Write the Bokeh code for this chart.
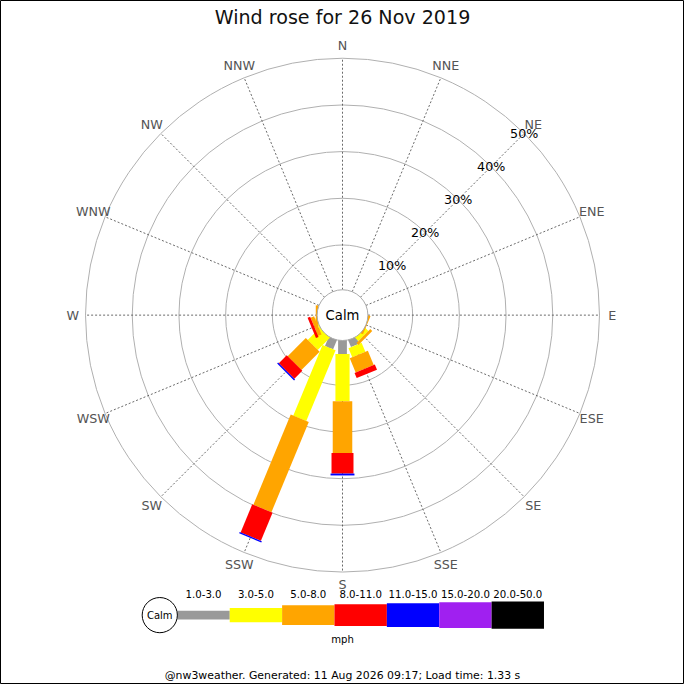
import numpy as np
from bokeh.plotting import figure
from bokeh.models import Range1d
from bokeh.core.properties import value
from bokeh.embed import file_html
from bokeh.resources import INLINE

# wind directions (clockwise from north)
directions = ["N", "NNE", "NE", "ENE", "E", "ESE", "SE", "SSE",
              "S", "SSW", "SW", "WSW", "W", "WNW", "NW", "NNW"]

# frequency (%) per direction and speed band
speed_bands = ["1.0-3.0", "3.0-5.0", "5.0-8.0", "8.0-11.0", "11.0-15.0", "15.0-20.0", "20.0-50.0"]
band_colors = ["#999999", "#ffff00", "#ffa500", "#ff0000", "#0000ff", "#a020f0", "#000000"]
pct_1_3   = [0, 0, 0, 0, 0, 0,   0,   2.0, 3.3,  2.5,  0,   0,   0,   0, 0, 0]
pct_3_5   = [0, 0, 0, 0, 0, 0,   1.3, 2.1, 10.1, 16.4, 4.0, 0.7, 0.2, 0, 0, 0]
pct_5_8   = [0, 0, 0, 0, 0, 0.6, 0.6, 3.3, 11.1, 20.9, 5.5, 0.8, 0.5, 0, 0, 0]
pct_8_11  = [0, 0, 0, 0, 0, 0,   0,   1.2, 4.4,  6.5,  2.4, 0.6, 0,   0, 0, 0]
pct_11_15 = [0, 0, 0, 0, 0, 0,   0,   0,   0.4,  0.3,  0.3, 0,   0,   0, 0, 0]
pct_15_20 = [0] * 16
pct_20_50 = [0] * 16
bands = [pct_1_3, pct_3_5, pct_5_8, pct_8_11, pct_11_15, pct_15_20, pct_20_50]

ring_pcts = [10, 20, 30, 40, 50]
title = "Wind rose for 26 Nov 2019"
footer = "@nw3weather. Generated: 11 Aug 2026 09:17; Load time: 1.33 s"

# layout (reference pixel units, centre of rose at origin)
S = 684 / 700.0
R0, K = 24.0, 4.78          # radius of 0% and px per percent
CALM_R = 26.0
widths = [9, 14.5, 20, 22.5, 24.5, 26.5, 28]
FONT = value("DejaVu Sans")


def rad(pct):
    return R0 + K * np.asarray(pct, dtype=float)


def fs(px):
    return "%.1fpx" % (px * S)


p = figure(width=684, height=684, x_range=Range1d(-350, 350), y_range=Range1d(-378, 322),
           output_backend="svg", toolbar_location=None, min_border=0)
p.axis.visible = False
p.grid.visible = False
p.outline_line_color = "black"
p.outline_line_width = 1

theta = np.deg2rad(22.5 * np.arange(16))
sx, sy = np.sin(theta), np.cos(theta)

# rings and spokes
p.circle(x=[0] * len(ring_pcts), y=[0] * len(ring_pcts), radius=rad(ring_pcts),
         fill_color=None, line_color="#b0b0b0", line_width=1)
p.segment(x0=CALM_R * sx, y0=CALM_R * sy, x1=rad(50) * sx, y1=rad(50) * sy,
          line_color="#444444", line_width=0.8, line_dash="2 2")

# stacked bars
cum = np.zeros(16)
for vals, col, w in zip(bands, band_colors, widths):
    vals = np.asarray(vals, dtype=float)
    end = cum + vals
    m = vals > 0
    if m.any():
        p.segment(x0=rad(cum[m]) * sx[m], y0=rad(cum[m]) * sy[m],
                  x1=rad(end[m]) * sx[m], y1=rad(end[m]) * sy[m],
                  line_color=col, line_width=w * S, line_cap="butt")
    cum = end

# calm circle
p.circle(x=[0], y=[0], radius=CALM_R, fill_color="white", line_color="#aaaaaa", line_width=1)
p.text(x=[0], y=[0], text=["Calm"], text_align="center", text_baseline="middle",
       text_font=FONT, text_font_size=fs(13.5), text_color="black")

# percentage labels along NE
d45 = np.sin(np.deg2rad(45))
p.text(x=rad(ring_pcts) * d45, y=rad(ring_pcts) * d45, text=["%d%%" % v for v in ring_pcts],
       text_align="center", text_baseline="middle", text_font=FONT,
       text_font_size=fs(13), text_color="black")

# direction labels
lab_r = 276
p.text(x=lab_r * sx, y=lab_r * sy, text=directions, text_align="center", text_baseline="middle",
       text_font=FONT, text_font_size=fs(13), text_color="#555555")

# title and footer
p.text(x=[0], y=[322 - 17], text=[title], text_align="center", text_baseline="middle",
       text_font=FONT, text_font_size=fs(19.5), text_color="#111111")
p.text(x=[0], y=[322 - 691], text=[footer], text_align="center", text_baseline="middle",
       text_font=FONT, text_font_size=fs(11.2), text_color="black")

# speed legend
ly = 322 - 629
lx0, step = 181 - 350, 53.6
lx = lx0 + step * np.arange(len(speed_bands))
for i, (col, w) in enumerate(zip(band_colors, widths)):
    p.segment(x0=[lx[i]], y0=[ly], x1=[lx[i] + step], y1=[ly],
              line_color=col, line_width=w * S, line_cap="butt")
p.text(x=lx + step / 2, y=[322 - 607] * len(speed_bands), text=speed_bands,
       text_align="center", text_baseline="middle", text_font=FONT,
       text_font_size=fs(10.4), text_color="black")
p.circle(x=[163 - 350], y=[ly], radius=18, fill_color="white", line_color="black", line_width=1)
p.text(x=[163 - 350], y=[ly], text=["Calm"], text_align="center", text_baseline="middle",
       text_font=FONT, text_font_size=fs(10.2), text_color="black")
p.text(x=[0], y=[322 - 654], text=["mph"], text_align="center", text_baseline="middle",
       text_font=FONT, text_font_size=fs(10.3), text_color="black")

open("out.html", "w").write(file_html(p, INLINE))
